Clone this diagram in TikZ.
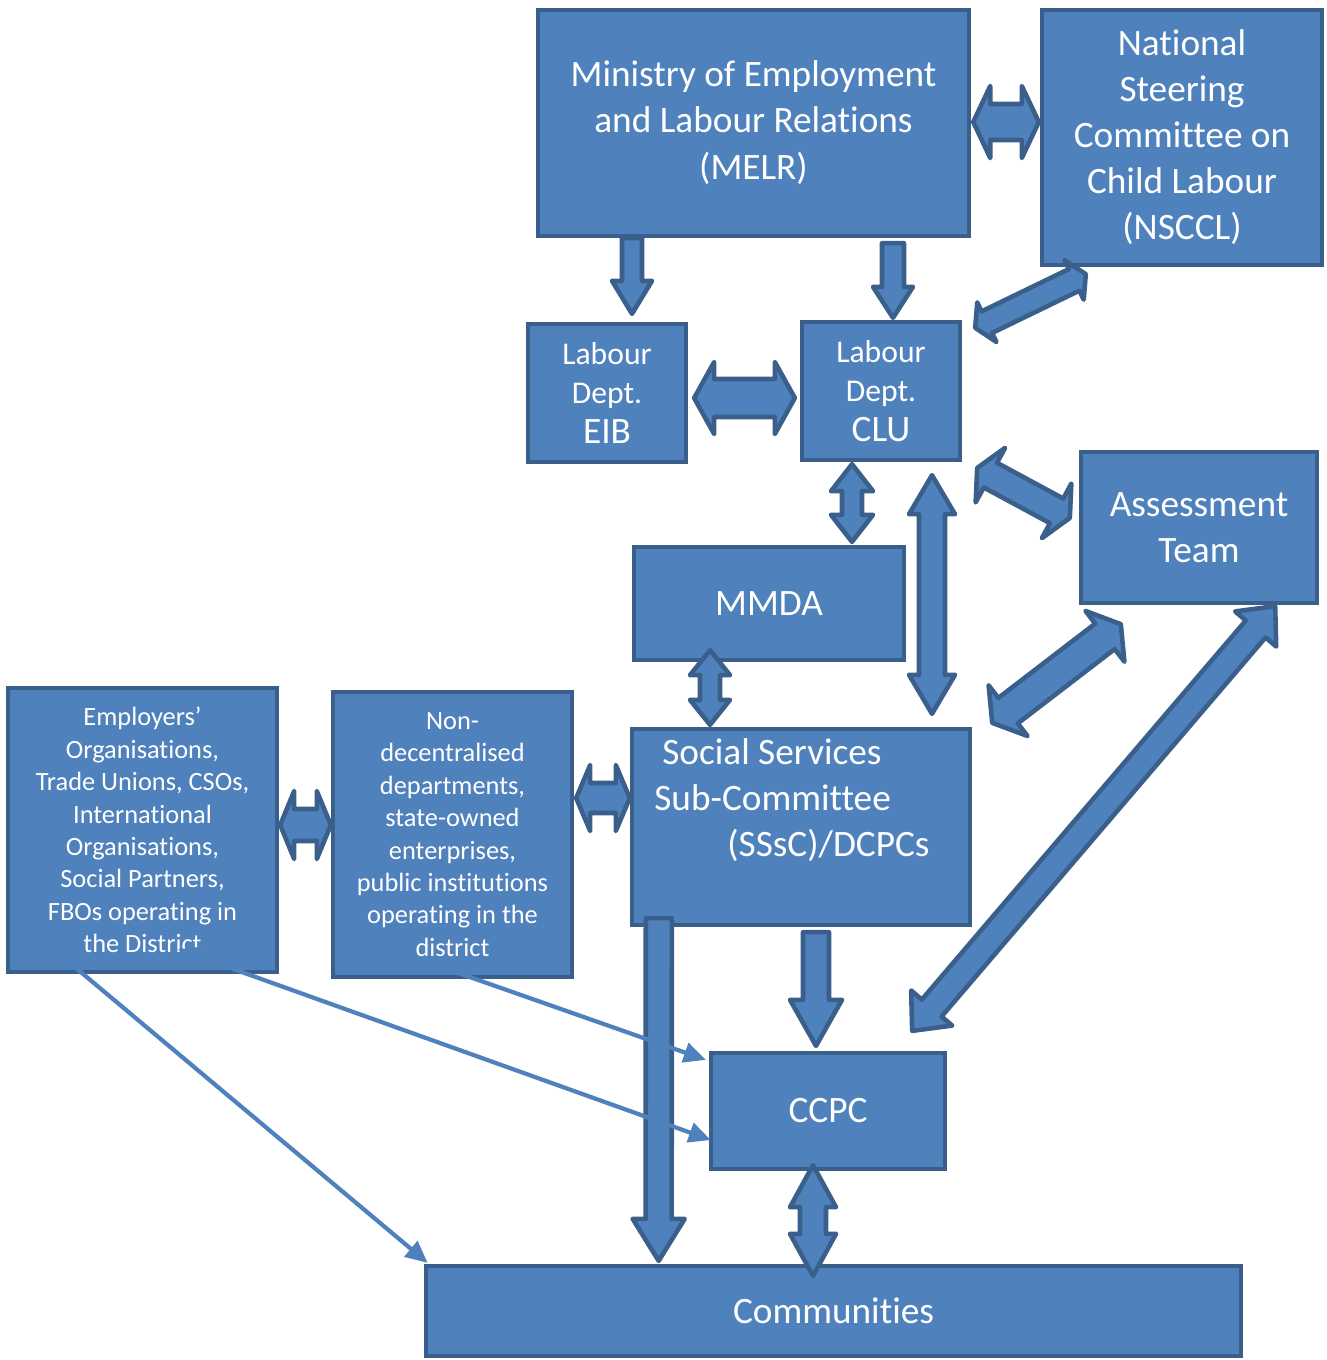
\documentclass[tikz,border=0pt]{standalone}
\usepackage{fontspec}
\setmainfont{Carlito}[Ligatures=NoCommon]
\usepackage{tikz}
\usetikzlibrary{arrows.meta, calc, positioning}

\definecolor{boxblue}{HTML}{4F81BD}
\definecolor{edgeblue}{HTML}{3A5F8B}

\tikzset{
  bluebox/.style={rectangle, draw=edgeblue, fill=boxblue, line width=1.2pt, text=white, align=center, inner sep=2pt, font=\fontsize{10.6}{13.1}\selectfont},
  smallbox/.style={bluebox, font=\fontsize{7.5}{9.2}\selectfont},
  blockarrow/.style={draw=edgeblue, fill=boxblue, line width=1.3pt, line join=round},
  thinarrow/.style={draw=boxblue, line width=1.2pt, {Triangle[length=0.22cm,width=0.2cm]}-{Triangle[length=0.22cm,width=0.2cm]}}
}

% block arrow, tip at #2: start, tip, half shaft, half head, head length
\newcommand{\onearrow}[5]{%
  \coordinate (fa-a) at (#1);
  \coordinate (fa-b) at (#2);
  \coordinate (fa-h) at ($(fa-b)!#5!(fa-a)$);
  \draw[blockarrow] ($(fa-a)!#3!90:(fa-b)$) -- ($(fa-h)!#3!90:(fa-b)$) -- ($(fa-h)!#4!90:(fa-b)$) -- (fa-b)
    -- ($(fa-h)!#4!-90:(fa-b)$) -- ($(fa-h)!#3!-90:(fa-b)$) -- ($(fa-a)!#3!-90:(fa-b)$) -- cycle;
}
% block arrow with two tips
\newcommand{\twoarrow}[5]{%
  \coordinate (fa-a) at (#1);
  \coordinate (fa-b) at (#2);
  \coordinate (fa-h) at ($(fa-a)!#5!(fa-b)$);
  \coordinate (fa-k) at ($(fa-b)!#5!(fa-a)$);
  \draw[blockarrow] (fa-a) -- ($(fa-h)!#4!90:(fa-b)$) -- ($(fa-h)!#3!90:(fa-b)$) -- ($(fa-k)!#3!90:(fa-b)$)
    -- ($(fa-k)!#4!90:(fa-b)$) -- (fa-b) -- ($(fa-k)!#4!-90:(fa-b)$) -- ($(fa-k)!#3!-90:(fa-b)$)
    -- ($(fa-h)!#3!-90:(fa-b)$) -- ($(fa-h)!#4!-90:(fa-b)$) -- cycle;
}

\begin{document}
\begin{tikzpicture}[x=0.01cm, y=-0.01cm]
    \useasboundingbox (0,0) rectangle (1326,1360);

    % boxes
    \node[bluebox, minimum width=4.31cm, minimum height=2.26cm, text depth=0.06cm] (melr) at (753.5,123) {Ministry of Employment\\and Labour Relations\\(MELR)};
    \node[bluebox, minimum width=2.8cm, minimum height=2.55cm, text depth=0.06cm] (nsccl) at (1182,137.5) {National\\Steering\\Committee on\\Child Labour\\(NSCCL)};
    \node[bluebox, minimum width=1.58cm, minimum height=1.38cm, font=\fontsize{9}{11.3}\selectfont] (eib) at (607,393) {Labour\\Dept.\\{\fontsize{10.6}{12}\selectfont EIB}};
    \node[bluebox, minimum width=1.58cm, minimum height=1.38cm, font=\fontsize{9}{11.3}\selectfont] (clu) at (881,391) {Labour\\Dept.\\{\fontsize{10.6}{12}\selectfont CLU}};
    \node[bluebox, minimum width=2.36cm, minimum height=1.51cm] (assess) at (1199,527.5) {Assessment\\Team};
    \node[bluebox, minimum width=2.7cm, minimum height=1.13cm] (mmda) at (769,603.5) {MMDA};
    \node[smallbox, minimum width=2.69cm, minimum height=2.84cm] (emp) at (142.5,830) {Employers’\\Organisations,\\Trade Unions, CSOs,\\International\\Organisations,\\Social Partners,\\FBOs operating in\\the District};
    \node[smallbox, minimum width=2.39cm, minimum height=2.85cm] (nondec) at (452.5,834.5) {Non-\\decentralised\\departments,\\state-owned\\enterprises,\\public institutions\\operating in the\\district};
    \node[bluebox, align=left, minimum width=3.38cm, minimum height=1.96cm, text depth=0.59cm] (sssc) at (801,827) {\hspace*{0.08cm}Social Services\\Sub-Committee\\\hspace*{0.73cm}(SSsC)/DCPCs\hspace*{0.18cm}};
    \node[bluebox, minimum width=2.34cm, minimum height=1.16cm] (ccpc) at (828,1111) {CCPC};
    \node[bluebox, minimum width=8.15cm, minimum height=0.9cm] (comm) at (833.5,1311) {Communities};

    % block arrows
    \onearrow{$(melr.south)+(-121.5,0)$}{$(eib.north)+(25,-8)$}{0.1cm}{0.2cm}{0.33cm}
    \onearrow{$(melr.south)+(139.5,5)$}{$(clu.north)+(12,-2)$}{0.11cm}{0.2cm}{0.31cm}
    \twoarrow{$(melr.east)+(2,-1)$}{$(nsccl.west)+(-1,-15.5)$}{0.18cm}{0.36cm}{0.17cm}
    \twoarrow{$(clu.north east)+(13,8)$}{$(nsccl.south west)+(46,7)$}{0.12cm}{0.22cm}{0.13cm}
    \twoarrow{$(eib.east)+(6,5)$}{$(clu.west)+(-5,7)$}{0.19cm}{0.36cm}{0.2cm}
    \twoarrow{$(clu.south)+(-29,2)$}{$(mmda.north)+(83,-3)$}{0.1cm}{0.21cm}{0.27cm}
    \twoarrow{$(clu.south)+(51,13)$}{$(sssc.north)+(131,-13)$}{0.13cm}{0.23cm}{0.39cm}
    \twoarrow{$(clu.east)+(15,77)$}{$(assess.west)+(-9,-9.5)$}{0.14cm}{0.31cm}{0.15cm}
    \twoarrow{$(mmda.south)+(-59,-12)$}{$(sssc.north)+(-91,-2)$}{0.1cm}{0.2cm}{0.25cm}
    \twoarrow{$(sssc.north east)+(20,-4)$}{$(assess.south west)+(42,19)$}{0.16cm}{0.32cm}{0.2cm}
    \twoarrow{$(assess.south east)+(-44,1)$}{$(ccpc.north east)+(-35,-20)$}{0.13cm}{0.27cm}{0.3cm}
    \onearrow{$(sssc.south)+(15,5)$}{$(ccpc.north)+(-12,-5)$}{0.13cm}{0.26cm}{0.46cm}
    \onearrow{$(sssc.south west)+(29,-9)$}{$(comm.north west)+(235,-3)$}{0.13cm}{0.26cm}{0.42cm}
    \twoarrow{$(ccpc.south)+(-15,-6)$}{$(comm.north)+(-20.5,12)$}{0.13cm}{0.23cm}{0.42cm}
    \twoarrow{$(emp.east)+(1,-5)$}{$(nondec.west)+(0,-9.5)$}{0.16cm}{0.34cm}{0.14cm}
    \twoarrow{$(nondec.east)+(2,-36.5)$}{$(sssc.west)+(0,-29)$}{0.15cm}{0.33cm}{0.14cm}

    % thin arrows
    \draw[thinarrow] ($(emp.south west)+(37,-34)$) -- ($(comm.north west)+(4,-1)$);
    \draw[thinarrow] ($(emp.south)+(35.5,-25)$) -- ($(ccpc.west)+(2,29)$);
    \draw[thinarrow] ($(nondec.south west)+(34,-39)$) -- ($(ccpc.north west)+(-3,9)$);
\end{tikzpicture}
\end{document}
